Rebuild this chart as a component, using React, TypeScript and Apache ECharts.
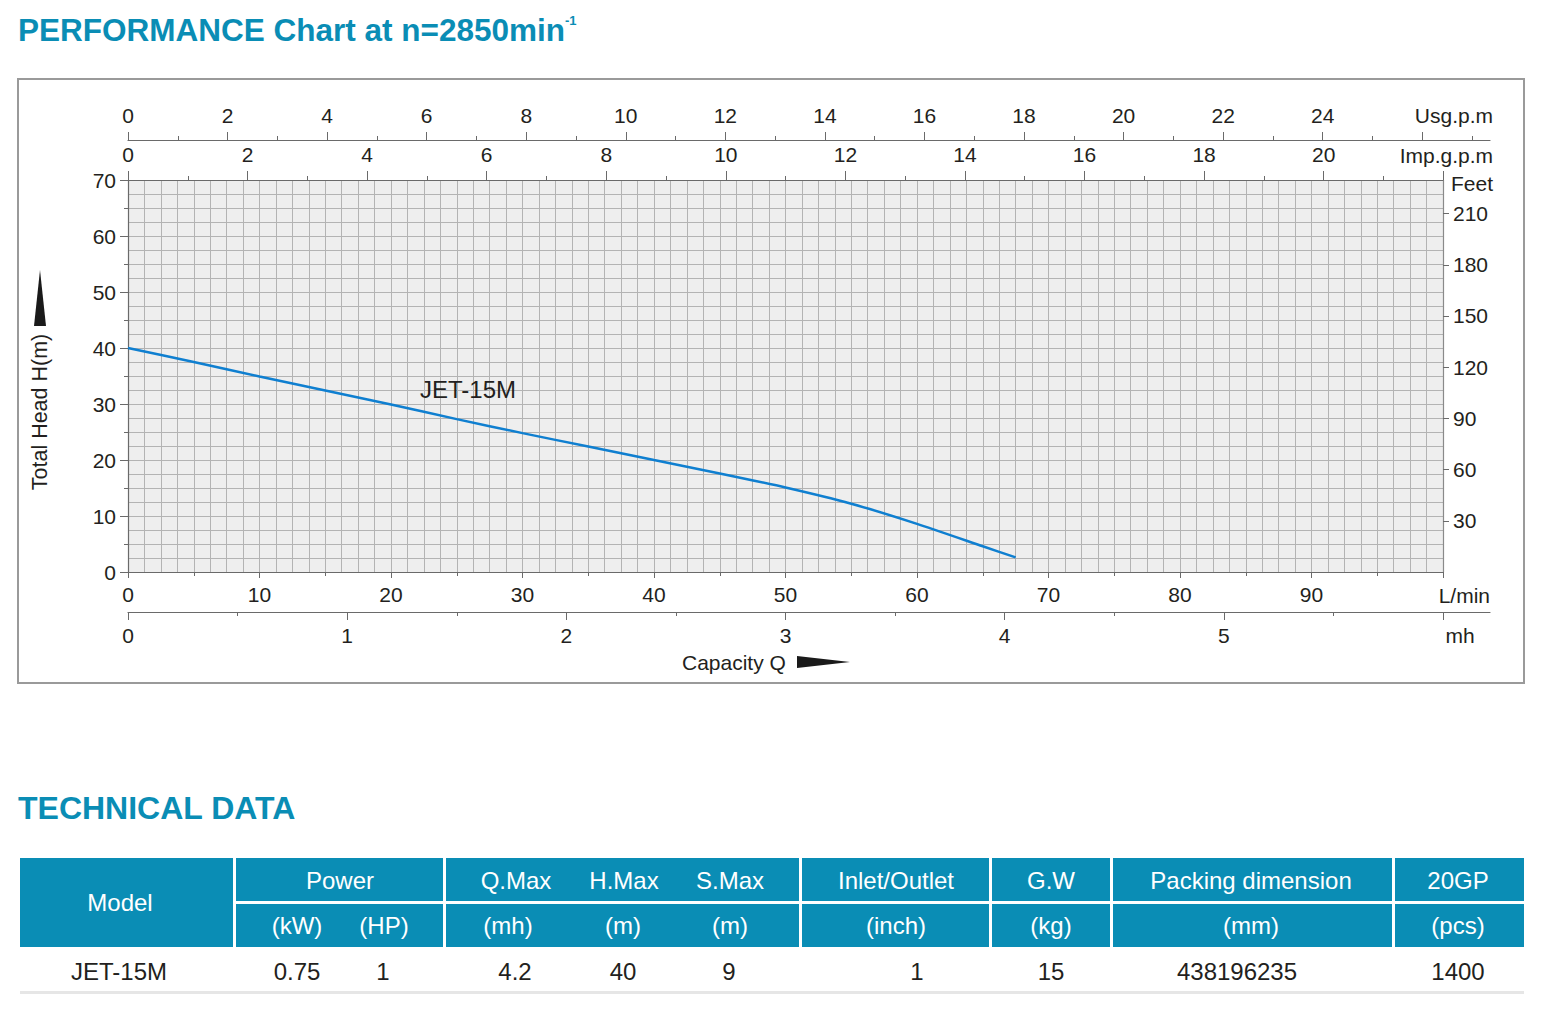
import React, { useEffect, useRef } from 'react';
import * as echarts from 'echarts';

// Pump curve: capacity (L/min) vs total head (m)
const flowLpm = [0, 5, 10, 15, 20, 25, 30, 35, 40, 45, 50, 55, 60, 65, 67.5];
const headM = [40, 37.5, 34.9, 32.4, 29.9, 27.3, 24.8, 22.4, 20.0, 17.6, 15.1, 12.2, 8.6, 4.6, 2.6];
const modelName = 'JET-15M';

// Secondary scale ticks
const usgTicks = [0, 2, 4, 6, 8, 10, 12, 14, 16, 18, 20, 22, 24, 26];
const usgMinorTicks = [1, 3, 5, 7, 9, 11, 13, 15, 17, 19, 21, 23, 25, 27];
const usgLabels = [0, 2, 4, 6, 8, 10, 12, 14, 16, 18, 20, 22, 24];
const mhTicks = [0, 1, 2, 3, 4, 5, 6];
const mhMinorTicks = [0.5, 1.5, 2.5, 3.5, 4.5, 5.5];
const mhLabels = [0, 1, 2, 3, 4, 5];
const feetTicks = [30, 60, 90, 120, 150, 180, 210];

// Technical data table
const headerTop = ['Model', 'Power', 'Q.Max', 'H.Max', 'S.Max', 'Inlet/Outlet', 'G.W', 'Packing dimension', '20GP'];
const headerUnits = ['(kW)', '(HP)', '(mh)', '(m)', '(m)', '(inch)', '(kg)', '(mm)', '(pcs)'];
const rowValues = ['JET-15M', '0.75', '1', '4.2', '40', '9', '1', '15', '438196235', '1400'];

const LPM_PER_USG = 3.78541;
const LPM_PER_IMP = 4.54609;
const M3H_PER_LPM = 0.06;
const FT_PER_M = 3.28084;

const FONT = "'Liberation Sans', Arial, sans-serif";
const INK = '#231f20';
const TEAL = '#0a8db5';
const AXIS = '#6a6a6a';
const GRIDLINE = '#b3b3b3';
const FS = 21;

// plot geometry
const PL = 128, PT = 180, PW = 1315, PH = 392;
const EXT_W = 1362; // extended secondary scales
const extLpm = (100 * EXT_W) / PW;

const labelStyle = { color: INK, fontSize: FS, fontFamily: FONT };

function txt(text: string, x: number, y: number, opts: any = {}) {
  return {
    type: 'text',
    x,
    y,
    rotation: opts.rotation || 0,
    style: {
      text,
      fill: opts.fill || INK,
      fontSize: opts.fontSize || FS,
      fontFamily: FONT,
      fontWeight: opts.fontWeight || 'normal',
      align: opts.align || 'center',
      verticalAlign: 'middle',
    },
    z: 10,
  };
}

function buildTable() {
  const els: any[] = [];
  const r1 = 858, r1h = 43, r2 = 904, r2h = 43;
  const cells = [
    [236, 443],
    [446, 799],
    [802, 989],
    [992, 1110],
    [1113, 1392],
    [1395, 1524],
  ];
  els.push({ type: 'rect', shape: { x: 20, y: r1, width: 213, height: r2 + r2h - r1 }, style: { fill: TEAL } });
  cells.forEach(([a, b]) => {
    els.push({ type: 'rect', shape: { x: a, y: r1, width: b - a, height: r1h }, style: { fill: TEAL } });
    els.push({ type: 'rect', shape: { x: a, y: r2, width: b - a, height: r2h }, style: { fill: TEAL } });
  });
  els.push({ type: 'rect', shape: { x: 20, y: 991, width: 1504, height: 3 }, style: { fill: '#e6e6e6' } });

  const topX = [120, 340, 516, 624, 730, 896, 1051, 1251, 1458];
  headerTop.forEach((t, i) => {
    els.push(txt(t, topX[i], i === 0 ? 902 : 880, { fill: '#ffffff', fontSize: 24 }));
  });
  const unitX = [297, 384, 508, 623, 730, 896, 1051, 1251, 1458];
  headerUnits.forEach((t, i) => {
    els.push(txt(t, unitX[i], 925, { fill: '#ffffff', fontSize: 24 }));
  });
  const valX = [119, 297, 383, 515, 623, 729, 917, 1051, 1237, 1458];
  rowValues.forEach((t, i) => {
    els.push(txt(t, valX[i], 971, { fontSize: 24 }));
  });
  return els;
}

export default function App() {
  const ref = useRef<HTMLDivElement>(null);

  useEffect(() => {
    document.body.style.margin = '0';
    if (!ref.current) return;
    const chart = echarts.init(ref.current, undefined, { renderer: 'svg' });

    const hiddenY = (gridIndex: number) => ({
      type: 'value',
      gridIndex,
      min: 0,
      max: 1,
      show: false,
    });

    const option: any = {
      animation: false,
      backgroundColor: '#ffffff',
      grid: [
        { left: PL, top: PT, width: PW, height: PH, show: true, backgroundColor: '#eeeeee', borderWidth: 0, containLabel: false },
        { left: PL, top: 140, width: EXT_W, height: 1, containLabel: false },
        { left: PL, top: 611, width: EXT_W, height: 1, containLabel: false },
      ],
      xAxis: [
        // 0: L/min (main)
        {
          type: 'value', gridIndex: 0, position: 'bottom', min: 0, max: 100, interval: 10,
          axisLine: { show: true, onZero: false, lineStyle: { color: AXIS, width: 1.2 } },
          axisTick: { show: true, length: 6, lineStyle: { color: AXIS } },
          minorTick: { show: true, splitNumber: 2, length: 4, lineStyle: { color: AXIS } },
          axisLabel: { ...labelStyle, margin: 12, formatter: (v: number) => (v >= 100 ? '' : String(v)) },
          splitLine: { show: false },
        },
        // 1: fine grid along capacity
        {
          type: 'value', gridIndex: 0, position: 'bottom', min: 0, max: 100, interval: 1.25,
          axisLine: { show: false }, axisTick: { show: false }, axisLabel: { show: false },
          splitLine: { show: true, lineStyle: { color: GRIDLINE, width: 1 } },
        },
        // 2: Imp.g.p.m
        {
          type: 'value', gridIndex: 0, position: 'top', min: 0, max: 100 / LPM_PER_IMP, interval: 2,
          axisLine: { show: true, onZero: false, lineStyle: { color: AXIS, width: 1.2 } },
          axisTick: { show: true, length: 9, lineStyle: { color: AXIS } },
          minorTick: { show: true, splitNumber: 2, length: 4, lineStyle: { color: AXIS } },
          axisLabel: { ...labelStyle, margin: 15, formatter: (v: number) => (v > 20.5 ? '' : String(Math.round(v))) },
          splitLine: { show: false },
        },
        // 3: Usg.p.m
        {
          type: 'value', gridIndex: 1, position: 'top', min: 0, max: extLpm / LPM_PER_USG,
          axisLine: { show: true, onZero: false, lineStyle: { color: AXIS, width: 1.2 } },
          axisTick: { show: true, length: 8, customValues: usgTicks, lineStyle: { color: AXIS } },
          axisLabel: { ...labelStyle, margin: 14, customValues: usgLabels },
          splitLine: { show: false },
        },
        // 4: Usg.p.m minor ticks
        {
          type: 'value', gridIndex: 1, position: 'top', min: 0, max: extLpm / LPM_PER_USG,
          axisLine: { show: false, onZero: false },
          axisTick: { show: true, length: 4, customValues: usgMinorTicks, lineStyle: { color: AXIS } },
          axisLabel: { show: false },
          splitLine: { show: false },
        },
        // 5: m3/h
        {
          type: 'value', gridIndex: 2, position: 'bottom', min: 0, max: extLpm * M3H_PER_LPM,
          axisLine: { show: true, onZero: false, lineStyle: { color: AXIS, width: 1.2 } },
          axisTick: { show: true, length: 8, customValues: mhTicks, lineStyle: { color: AXIS } },
          axisLabel: { ...labelStyle, margin: 13, customValues: mhLabels },
          splitLine: { show: false },
        },
        // 6: m3/h minor ticks
        {
          type: 'value', gridIndex: 2, position: 'bottom', min: 0, max: extLpm * M3H_PER_LPM,
          axisLine: { show: false, onZero: false },
          axisTick: { show: true, length: 4, customValues: mhMinorTicks, lineStyle: { color: AXIS } },
          axisLabel: { show: false },
          splitLine: { show: false },
        },
      ],
      yAxis: [
        // 0: head (m)
        {
          type: 'value', gridIndex: 0, position: 'left', min: 0, max: 70, interval: 10,
          axisLine: { show: true, onZero: false, lineStyle: { color: AXIS, width: 1.2 } },
          axisTick: { show: true, length: 8, lineStyle: { color: AXIS } },
          minorTick: { show: true, splitNumber: 2, length: 4, lineStyle: { color: AXIS } },
          axisLabel: { ...labelStyle, margin: 12 },
          splitLine: { show: false },
        },
        // 1: fine grid along head
        {
          type: 'value', gridIndex: 0, position: 'left', min: 0, max: 70, interval: 2.5,
          axisLine: { show: false }, axisTick: { show: false }, axisLabel: { show: false },
          splitLine: { show: true, lineStyle: { color: GRIDLINE, width: 1 } },
        },
        // 2: Feet
        {
          type: 'value', gridIndex: 0, position: 'right', min: 0, max: 70 * FT_PER_M,
          axisLine: { show: true, onZero: false, lineStyle: { color: '#8a8a8a', width: 1.2 } },
          axisTick: { show: true, length: 6, customValues: feetTicks, lineStyle: { color: AXIS } },
          axisLabel: { ...labelStyle, margin: 10, customValues: feetTicks },
          splitLine: { show: false },
        },
        hiddenY(1),
        hiddenY(2),
      ],
      series: [
        {
          name: modelName,
          type: 'line',
          xAxisIndex: 0,
          yAxisIndex: 0,
          data: flowLpm.map((q, i) => [q, headM[i]]),
          showSymbol: false,
          smooth: 0.2,
          lineStyle: { color: '#0f7fd0', width: 2.5 },
          z: 5,
        },
      ],
      graphic: [
        // outer frame of the performance chart
        { type: 'rect', shape: { x: 18, y: 79, width: 1506, height: 604 }, style: { fill: 'none', stroke: '#9a9a9a', lineWidth: 2 }, z: 1 },
        {
          type: 'text', x: 18, y: 30,
          style: {
            text: '{t|PERFORMANCE Chart at n=2850min}{s|-1}',
            verticalAlign: 'middle', align: 'left',
            rich: {
              t: { fontSize: 31.5, fontWeight: 'bold', fontFamily: FONT, fill: TEAL },
              s: { fontSize: 13, fontWeight: 'bold', fontFamily: FONT, fill: TEAL, verticalAlign: 'top' },
            },
          },
        },
        txt('TECHNICAL DATA', 18, 808, { align: 'left', fontSize: 32, fontWeight: 'bold', fill: TEAL }),
        txt('Usg.p.m', 1493, 115, { align: 'right' }),
        txt('Imp.g.p.m', 1493, 155, { align: 'right' }),
        txt('Feet', 1493, 183, { align: 'right' }),
        txt('L/min', 1490, 595, { align: 'right' }),
        txt('mh', 1460, 635),
        txt(modelName, 420, 389, { align: 'left', fontSize: 24 }),
        txt('Capacity Q', 682, 662, { align: 'left' }),
        { type: 'polygon', shape: { points: [[797, 656], [850, 662], [797, 668]] }, style: { fill: '#1a1a1a' } },
        txt('Total Head H(m)', 40, 412, { rotation: Math.PI / 2, fontSize: 21.5 }),
        { type: 'polygon', shape: { points: [[34, 326], [40, 270], [46, 326]] }, style: { fill: '#1a1a1a' } },
        ...buildTable(),
      ],
    };

    chart.setOption(option);
    return () => chart.dispose();
  }, []);

  return <div ref={ref} style={{ width: 1546, height: 1016 }} />;
}
